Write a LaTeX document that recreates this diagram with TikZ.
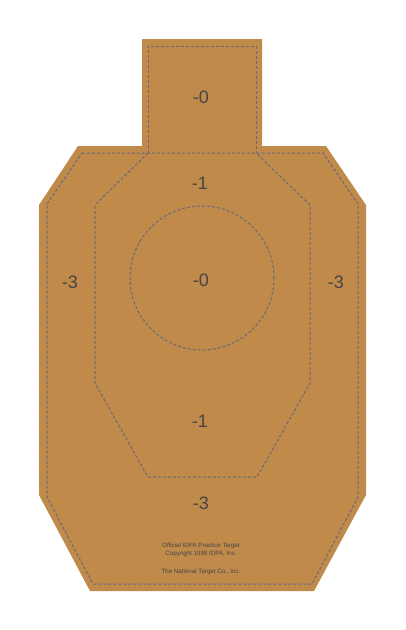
\documentclass[tikz,border=0pt]{standalone}
\usepackage{fontspec}
\setmainfont{Liberation Sans}
\definecolor{tgtbrown}{HTML}{C08A4B}
\definecolor{zonegray}{HTML}{676A76}
\definecolor{txtgray}{HTML}{454545}
\tikzset{
	zone/.style={draw=zonegray, line width=1pt, dash pattern=on 3pt off 2pt},
	score/.style={text=txtgray, font=\fontsize{18}{18}\selectfont, inner sep=0pt},
	fine/.style={text=txtgray, font=\fontsize{6.2}{7.4}\selectfont, inner sep=0pt, align=center}
}

\begin{document}
\begin{tikzpicture}[x=1pt, y=-1pt]
	\useasboundingbox (0,0) rectangle (405,630);
	% silhouette
	\fill[tgtbrown] (142,39) -- (262,39) -- (262,146) -- (326,146) -- (366,205) -- (366,495) -- (314,591) -- (90,591) -- (39,495) -- (39,205) -- (78,146) -- (142,146) -- cycle;
	% -3 zone
	\draw[zone] (82,153) -- (323,153) -- (358,204) -- (358,497) -- (312,584) -- (93,584) -- (47,497) -- (47,204) -- cycle;
	% head
	\draw[zone] (148,153) -- (148,46) -- (256,46) -- (256,153);
	% -1 zone
	\draw[zone] (148,153) -- (95,205) -- (95,383) -- (148,477) -- (257,477) -- (310,383) -- (310,205) -- (256,153);
	% -0 circle
	\draw[zone] (202,278) circle[radius=72pt];
	% scores
	\node[score] (headzero) at (201,97) {-0};
	\node[score] (topone) at (200,183) {-1};
	\node[score] (leftthree) at (70,282) {-3};
	\node[score] (rightthree) at (336,282) {-3};
	\node[score] (midzero) at (201,280) {-0};
	\node[score] (lowone) at (200,421) {-1};
	\node[score] (lowthree) at (201,503) {-3};
	% imprint
	\node[fine] (imprint) at (201,550) {Official IDPA Practice Target\\Copyright 1998 IDPA, Inc.};
	\node[fine] (maker) at (201,572) {The National Target Co., Inc.};
\end{tikzpicture}
\end{document}
